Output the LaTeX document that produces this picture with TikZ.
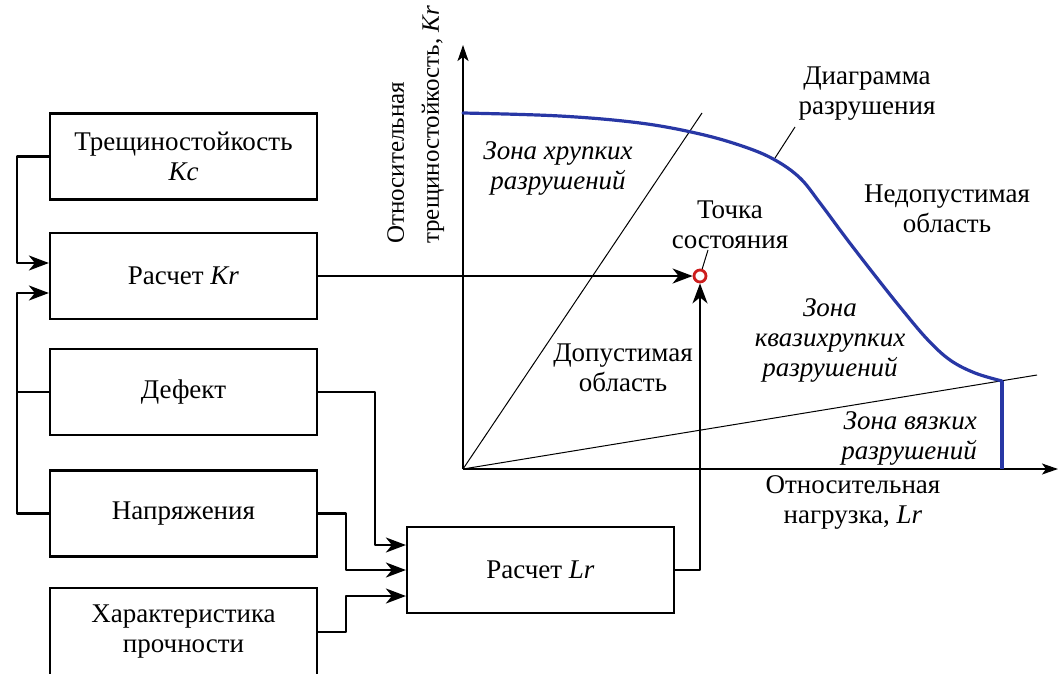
\documentclass[tikz,border=0pt]{standalone}
\usepackage{fontspec}
\setmainfont{Liberation Serif}
\usetikzlibrary{arrows.meta,calc}
\definecolor{curveblue}{RGB}{40,55,165}
\definecolor{ptred}{RGB}{205,30,30}
\tikzset{
  box/.style={draw,line width=2.2pt,minimum width=267pt,minimum height=86pt,inner sep=0pt,align=center},
  conn/.style={line width=2.2pt,line join=round},
  arr/.style={conn,-{Stealth[length=20pt,width=15pt,inset=6pt]}},
  axis/.style={line width=1.6pt,-{Stealth[length=16pt,width=11pt,inset=4pt]}},
  thin/.style={line width=1pt},
  lbl/.style={align=center,inner sep=0pt},
  zone/.style={align=center,inner sep=0pt,font=\fontsize{27}{30}\selectfont\itshape}
}
\begin{document}
\begin{tikzpicture}[x=1pt,y=-1pt,font=\fontsize{27}{30}\selectfont]
\clip (0,0) rectangle (1059,673);
\useasboundingbox (0,0) rectangle (1059,673);
% boxes
\node[box] (b1) at (183.5,156.5) {Трещиностойкость\\\textit{Kc}};
\node[box] (b2) at (183.5,276) {Расчет \textit{Kr}};
\node[box] (b3) at (183.5,392) {Дефект};
\node[box] (b4) at (183.5,513.5) {Напряжения};
\node[box,minimum height=88pt] (b5) at (183.5,632) {Характеристика\\прочности};
\node[box,minimum height=86pt] (lr) at (540.5,570) {Расчет \textit{Lr}};
% axes
\coordinate (O) at (463,469);
\coordinate (ytip) at (463,45);
\coordinate (xtip) at (1058,469);
\draw[axis] (O) -- (ytip);
\draw[axis] (O) -- (xtip);
% thin zone lines
\coordinate (l1) at (702,113);
\coordinate (l2) at (1037,375);
\draw[thin] (O) -- (l1);
\draw[thin] (O) -- (l2);
% failure diagram curve
\coordinate (cend) at (1002,381);
\draw[curveblue,line width=3.2pt,line cap=round] plot[smooth,tension=0.6] coordinates {
 (463,113) (560,116) (640,123) (700,134) (745,147) (775,160) (800,178) (820,203)
 (846,238) (873,273) (900,307) (927,339) (950,360) (975,373) (1002,381)};
\draw[curveblue,line width=3.2pt] (cend) -- (cend |- O);
% state point
\node[circle,draw=ptred,fill=white,line width=2.8pt,minimum size=12pt,inner sep=0pt] (pt) at (700,276) {};
% connectors
\draw[arr] (b1.west) -- ++(-32,0) |- ([yshift=13]b2.west);
\draw[arr] (b4.west) -- ++(-32,0) |- ([yshift=-17]b2.west);
\draw[conn] (b3.west) -- ++(-32,0);
\draw[arr] (b2.east) -- (pt.west);
\draw[arr] (b3.east) -| ($(lr.west)+(-31,-25)$) -- ([yshift=25]lr.west);
\draw[arr] (b4.east) -| ($(lr.west)+(-60,0)$) -- (lr.west);
\draw[arr] (b5.east) -| ($(lr.west)+(-60,26)$) -- ([yshift=-26]lr.west);
\draw[arr] (lr.east) -| (pt.south);
% labels
\node[lbl,rotate=90,anchor=north west,align=left,font=\fontsize{25}{35}\selectfont] (ylab) at (387,244) {Относительная\\трещиностойкость, \textit{Kr}};
\node[lbl] (xlab) at (853,502) {Относительная\\нагрузка, \textit{Lr}};
\node[lbl] (diag) at (867,94) {Диаграмма\\разрушения};
\draw[thin] (775,158) -- (795,127);
\node[lbl] (ned) at (947,209) {Недопустимая\\область};
\node[lbl] (tochka) at (730,225) {Точка\\состояния};
\draw[thin] (pt) -- (708,250);
\node[lbl] (dop) at (623,368) {Допустимая\\область};
\node[zone] (zh) at (558,168) {Зона хрупких\\разрушений};
\node[zone] (zk) at (830,340) {Зона\\квазихрупких\\разрушений};
\node[zone,align=right,anchor=east] (zv) at (977,438) {Зона вязких\\разрушений};
\end{tikzpicture}
\end{document}
